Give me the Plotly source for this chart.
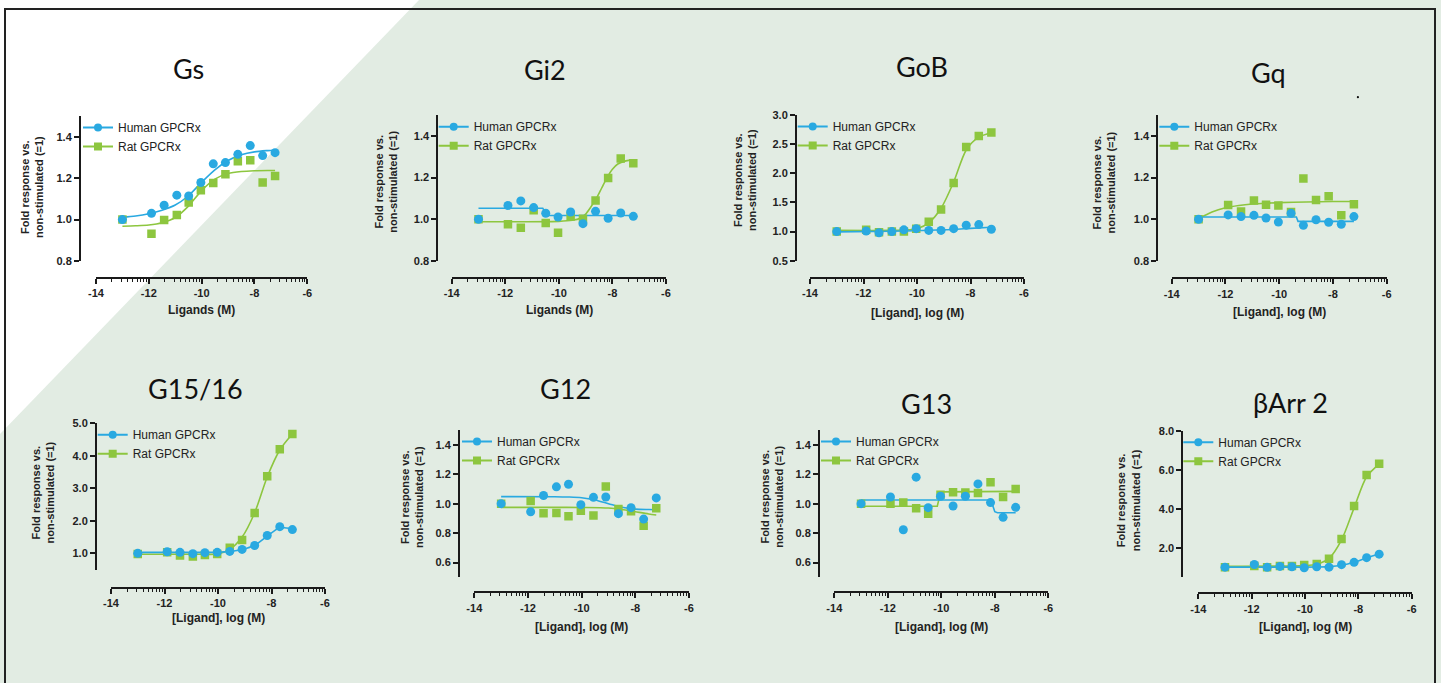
import math
import plotly.graph_objects as go

# ---------------- data ----------------
PANEL_TITLES = ["Gs", "Gi2", "GoB", "Gq", "G15/16", "G12", "G13", "βArr 2"]
X_TITLES = ["Ligands (M)", "Ligands (M)", "[Ligand], log (M)", "[Ligand], log (M)",
            "[Ligand], log (M)", "[Ligand], log (M)", "[Ligand], log (M)", "[Ligand], log (M)"]
SERIES_NAMES = ["Human GPCRx", "Rat GPCRx"]

LOG_CONC = [-13, -11.9, -11.42, -10.94, -10.49, -10.03, -9.56, -9.1, -8.63, -8.16, -7.69, -7.22]

GS_HUMAN = [1.0, 1.03, 1.069, 1.118, 1.114, 1.179, 1.269, 1.275, 1.315, 1.357, 1.309, 1.323]
GS_RAT = [1.0, 0.931, 0.998, 1.022, 1.083, 1.141, 1.176, 1.219, 1.282, 1.286, 1.179, 1.21]
GI2_HUMAN = [1.0, 1.066, 1.088, 1.056, 1.029, 1.011, 1.035, 0.979, 1.038, 1.005, 1.03, 1.014]
GI2_RAT = [1.0, 0.976, 0.96, 1.043, 0.982, 0.936, 1.013, 1.002, 1.09, 1.198, 1.291, 1.269]
GOB_HUMAN = [1.0, 1.01, 0.98, 1.0, 1.03, 1.05, 1.02, 1.02, 1.05, 1.11, 1.12, 1.04]
GOB_RAT = [1.0, 1.03, 0.99, 1.0, 1.0, 1.05, 1.17, 1.38, 1.835, 2.45, 2.64, 2.70]
GQ_HUMAN = [1.0, 1.021, 1.013, 1.019, 1.006, 0.987, 1.029, 0.971, 0.998, 0.986, 0.976, 1.013]
GQ_RAT = [1.0, 1.069, 1.037, 1.09, 1.07, 1.066, 1.035, 1.195, 1.093, 1.11, 1.019, 1.072]
G1516_HUMAN = [1.0, 1.05, 1.03, 0.99, 1.02, 1.03, 1.06, 1.12, 1.24, 1.55, 1.82, 1.73]
G1516_RAT = [0.98, 1.03, 0.93, 0.9, 0.95, 0.98, 1.17, 1.41, 2.24, 3.37, 4.2, 4.67]
G12_HUMAN = [1.0, 0.945, 1.055, 1.114, 1.132, 0.993, 1.043, 1.045, 0.932, 0.973, 0.895, 1.039]
G12_RAT = [1.0, 1.018, 0.934, 0.936, 0.914, 0.952, 0.92, 1.116, 0.964, 0.948, 0.85, 0.968]
G13_HUMAN = [1.0, 1.045, 0.823, 1.18, 0.973, 1.05, 0.984, 1.05, 1.134, 1.007, 0.907, 0.975]
G13_RAT = [1.0, 1.0, 1.007, 0.968, 0.932, 1.061, 1.077, 1.075, 1.073, 1.145, 1.045, 1.1]
BARR_HUMAN = [1.0, 1.14, 0.99, 1.04, 1.02, 0.97, 1.02, 1.0, 1.13, 1.25, 1.49, 1.67]
BARR_RAT = [1.0, 1.06, 0.99, 1.06, 1.06, 1.11, 1.16, 1.43, 2.45, 4.14, 5.74, 6.32]

# fitted curves at a few concentrations
GS_HUMAN_FIT_X = [-13, -12.5, -12, -11.5, -11, -10.5, -10, -9.5, -9, -8.5, -8, -7.5, -7.22]
GS_HUMAN_FIT_Y = [1.011, 1.017, 1.028, 1.045, 1.07, 1.115, 1.18, 1.24, 1.285, 1.313, 1.327, 1.333, 1.335]
GS_RAT_FIT_X = [-13, -12.5, -12, -11.5, -11, -10.5, -10, -9.5, -9, -8.5, -8, -7.5, -7.22]
GS_RAT_FIT_Y = [0.968, 0.97, 0.974, 0.985, 1.01, 1.065, 1.14, 1.195, 1.222, 1.232, 1.236, 1.237, 1.237]
GI2_HUMAN_FIT_X = [-13, -10.6, -10.45, -7.22]
GI2_HUMAN_FIT_Y = [1.053, 1.053, 1.018, 1.018]
GI2_RAT_FIT_X = [-13, -10, -9.5, -9.2, -9.0, -8.8, -8.6, -8.4, -8.2, -8.0, -7.8, -7.5, -7.22]
GI2_RAT_FIT_Y = [0.988, 0.99, 0.995, 1.005, 1.025, 1.06, 1.1, 1.15, 1.2, 1.24, 1.265, 1.28, 1.285]
GOB_HUMAN_FIT_X = [-13, -11, -9, -8, -7.22]
GOB_HUMAN_FIT_Y = [0.995, 1.005, 1.03, 1.055, 1.075]
GOB_RAT_FIT_X = [-13, -11, -10.3, -10, -9.56, -9.1, -8.63, -8.16, -7.69, -7.22]
GOB_RAT_FIT_Y = [1.02, 1.02, 1.03, 1.05, 1.15, 1.4, 1.85, 2.4, 2.62, 2.69]
GQ_HUMAN_FIT_X = [-13, -9.36, -9.3, -7.22]
GQ_HUMAN_FIT_Y = [1.011, 1.011, 0.99, 0.99]
GQ_RAT_FIT_X = [-13, -12.5, -12, -11.5, -11, -10.5, -10, -9, -8, -7.22]
GQ_RAT_FIT_Y = [1.003, 1.035, 1.055, 1.066, 1.073, 1.077, 1.08, 1.083, 1.085, 1.085]
G1516_HUMAN_FIT_X = [-13, -10.5, -10, -9.56, -9.1, -8.63, -8.16, -7.69, -7.22]
G1516_HUMAN_FIT_Y = [1.03, 1.03, 1.035, 1.06, 1.12, 1.25, 1.53, 1.79, 1.75]
G1516_RAT_FIT_X = [-13, -10.5, -10.03, -9.56, -9.1, -8.63, -8.16, -7.69, -7.22]
G1516_RAT_FIT_Y = [0.97, 0.97, 0.98, 1.12, 1.5, 2.25, 3.35, 4.18, 4.67]
G12_HUMAN_FIT_X = [-13, -11, -10.5, -10, -9.5, -9, -8.5, -8, -7.5, -7.22]
G12_HUMAN_FIT_Y = [1.048, 1.047, 1.045, 1.04, 1.025, 1.0, 0.975, 0.963, 0.96, 0.959]
G12_RAT_FIT_X = [-13, -11, -10, -9, -8.5, -8, -7.5, -7.22]
G12_RAT_FIT_Y = [0.975, 0.975, 0.974, 0.97, 0.96, 0.945, 0.93, 0.923]
G13_HUMAN_FIT_X = [-13, -8.2, -8.1, -8.0, -7.9, -7.22]
G13_HUMAN_FIT_Y = [1.025, 1.025, 1.0, 0.945, 0.938, 0.938]
G13_RAT_FIT_X = [-13, -10.15, -10.05, -9.95, -7.22]
G13_RAT_FIT_Y = [0.982, 0.982, 1.06, 1.08, 1.083]
BARR_HUMAN_FIT_X = [-13, -10, -9.56, -9.1, -8.63, -8.16, -7.69, -7.22]
BARR_HUMAN_FIT_Y = [1.0, 1.0, 1.01, 1.03, 1.1, 1.25, 1.48, 1.68]
BARR_RAT_FIT_X = [-13, -10.03, -9.56, -9.1, -8.63, -8.16, -7.69, -7.22]
BARR_RAT_FIT_Y = [1.05, 1.08, 1.15, 1.45, 2.4, 4.05, 5.65, 6.3]

X_TICKS = [-14, -12, -10, -8, -6]
X_TICK_TEXT = ["-14", "-12", "-10", "-8", "-6"]

Y_TICKS_A = [0.8, 1.0, 1.2, 1.4]
Y_TICKS_GOB = [0.5, 1.0, 1.5, 2.0, 2.5, 3.0]
Y_TICKS_G15 = [1, 2, 3, 4, 5]
Y_TICKS_G12 = [0.6, 0.8, 1.0, 1.2, 1.4]
Y_TICKS_BARR = [2, 4, 6, 8]

# ---------------- styling / layout ----------------
W, H = 1441, 683
BLUE = "#29A9E1"
GREEN = "#8DC63F"
INK = "#1a1a1a"
BG = "#E2ECE3"
ARIAL = "Arial, Liberation Sans, sans-serif"


def fx(px):
    return px / W


def fy(py):
    return 1 - py / H


panels = [
    dict(h=GS_HUMAN, r=GS_RAT, hf=(GS_HUMAN_FIT_X, GS_HUMAN_FIT_Y), rf=(GS_RAT_FIT_X, GS_RAT_FIT_Y),
         hs="spline", rs="spline", yt=Y_TICKS_A, yr=[0.8, 1.5], fmt="{:.1f}",
         yax=80, ytop=116, ybot=261, x0=96, x1=307.3, xline=277.7,
         title=(188, 68), xt=(201.7, 310), ytl=(32, 187), leg=(87, 126)),
    dict(h=GI2_HUMAN, r=GI2_RAT, hf=(GI2_HUMAN_FIT_X, GI2_HUMAN_FIT_Y), rf=(GI2_RAT_FIT_X, GI2_RAT_FIT_Y),
         hs="linear", rs="spline", yt=Y_TICKS_A, yr=[0.8, 1.5], fmt="{:.1f}",
         yax=437.3, ytop=115, ybot=261, x0=451.7, x1=666, xline=277.7,
         title=(545, 70), xt=(559, 310), ytl=(385.7, 182), leg=(442.7, 125.3)),
    dict(h=GOB_HUMAN, r=GOB_RAT, hf=(GOB_HUMAN_FIT_X, GOB_HUMAN_FIT_Y), rf=(GOB_RAT_FIT_X, GOB_RAT_FIT_Y),
         hs="spline", rs="spline", yt=Y_TICKS_GOB, yr=[0.5, 3.0], fmt="{:.1f}",
         yax=796, ytop=115, ybot=260.7, x0=810, x1=1024, xline=277.7,
         title=(921.7, 66), xt=(917.3, 313), ytl=(745, 180), leg=(801.7, 125)),
    dict(h=GQ_HUMAN, r=GQ_RAT, hf=(GQ_HUMAN_FIT_X, GQ_HUMAN_FIT_Y), rf=(GQ_RAT_FIT_X, GQ_RAT_FIT_Y),
         hs="linear", rs="spline", yt=Y_TICKS_A, yr=[0.8, 1.5], fmt="{:.1f}",
         yax=1157.3, ytop=115, ybot=261, x0=1171.7, x1=1386.7, xline=278.3,
         title=(1268, 72), xt=(1279, 311.7), ytl=(1103.5, 183), leg=(1163.3, 125.3)),
    dict(h=G1516_HUMAN, r=G1516_RAT, hf=(G1516_HUMAN_FIT_X, G1516_HUMAN_FIT_Y), rf=(G1516_RAT_FIT_X, G1516_RAT_FIT_Y),
         hs="spline", rs="spline", yt=Y_TICKS_G15, yr=[0.5, 5.0], fmt="{:.1f}",
         yax=96, ytop=423.3, ybot=569.6, x0=111, x1=325, xline=587.7,
         title=(195, 388), xt=(218.3, 617.7), ytl=(42.5, 493), leg=(101.7, 433.3)),
    dict(h=G12_HUMAN, r=G12_RAT, hf=(G12_HUMAN_FIT_X, G12_HUMAN_FIT_Y), rf=(G12_RAT_FIT_X, G12_RAT_FIT_Y),
         hs="spline", rs="spline", yt=Y_TICKS_G12, yr=[0.5, 1.5], fmt="{:.1f}",
         yax=459, ytop=430, ybot=577.3, x0=474.3, x1=689, xline=592.3,
         title=(565, 388), xt=(581.7, 626.7), ytl=(412, 497), leg=(466, 440)),
    dict(h=G13_HUMAN, r=G13_RAT, hf=(G13_HUMAN_FIT_X, G13_HUMAN_FIT_Y), rf=(G13_RAT_FIT_X, G13_RAT_FIT_Y),
         hs="linear", rs="linear", yt=Y_TICKS_G12, yr=[0.5, 1.5], fmt="{:.1f}",
         yax=819, ytop=430, ybot=577.3, x0=834.3, x1=1048.3, xline=592.3,
         title=(926.7, 403), xt=(941.7, 626.7), ytl=(771.7, 497), leg=(825, 440)),
    dict(h=BARR_HUMAN, r=BARR_RAT, hf=(BARR_HUMAN_FIT_X, BARR_HUMAN_FIT_Y), rf=(BARR_RAT_FIT_X, BARR_RAT_FIT_Y),
         hs="spline", rs="spline", yt=Y_TICKS_BARR, yr=[0.5, 8.0], fmt="{:.1f}",
         yax=1182.3, ytop=431, ybot=576.9, x0=1198.3, x1=1411.7, xline=593.3,
         title=(1290, 402), xt=(1305, 626.7), ytl=(1128.3, 500), leg=(1187.3, 440.7)),
]

MINOR_X = []
for d in [-14, -12, -10, -8]:
    for k in range(2, 10):
        MINOR_X.append(d + 2 * math.log10(k))

fig = go.Figure()
annotations = []
layout_axes = {}
legends = {}

for i, p in enumerate(panels):
    n = i + 1
    sfx = "" if n == 1 else str(n)
    xa, ya = "x" + sfx, "y" + sfx
    legname = "legend" + sfx

    # fitted curves
    for (fxs, fys), col, shp in [(p["rf"], GREEN, p["rs"]), (p["hf"], BLUE, p["hs"])]:
        fig.add_trace(go.Scatter(x=fxs, y=fys, mode="lines", xaxis=xa, yaxis=ya,
                                 line=dict(color=col, width=1.6, shape=shp, smoothing=0.8),
                                 showlegend=False, hoverinfo="skip"))
    # data points (rat below, human on top)
    fig.add_trace(go.Scatter(x=LOG_CONC, y=p["r"], mode="markers", xaxis=xa, yaxis=ya,
                             marker=dict(symbol="square", size=8.5, color=GREEN),
                             showlegend=False, name=SERIES_NAMES[1]))
    fig.add_trace(go.Scatter(x=LOG_CONC, y=p["h"], mode="markers", xaxis=xa, yaxis=ya,
                             marker=dict(symbol="circle", size=9, color=BLUE),
                             showlegend=False, name=SERIES_NAMES[0]))
    # legend entries
    for name, col, sym in [(SERIES_NAMES[0], BLUE, "circle"), (SERIES_NAMES[1], GREEN, "square")]:
        fig.add_trace(go.Scatter(x=[None], y=[None], mode="lines+markers", xaxis=xa, yaxis=ya,
                                 name=name, legend=legname,
                                 line=dict(color=col, width=2),
                                 marker=dict(symbol=sym, size=8, color=col)))

    legends[legname] = dict(
        x=fx(p["leg"][0] - 9), y=fy(p["leg"][1] - 13), xanchor="left", yanchor="top",
        bgcolor="rgba(0,0,0,0)", borderwidth=0, itemwidth=30, tracegroupgap=0,
        font=dict(family=ARIAL, size=12, color="#222"), itemclick=False, itemdoubleclick=False,
    )

    axis_common = dict(showline=True, linecolor=INK, linewidth=2, ticks="outside",
                       tickcolor=INK, tickwidth=1.5, showgrid=False, zeroline=False,
                       fixedrange=True, automargin=False,
                       tickfont=dict(family=ARIAL, size=11, color="#222", weight="bold"))
    layout_axes["xaxis" + sfx] = dict(
        axis_common, domain=[fx(p["x0"]), fx(p["x1"])], range=[-14, -6],
        anchor="free", position=fy(p["xline"]), ticklen=5,
        tickmode="array", tickvals=X_TICKS, ticktext=X_TICK_TEXT,
        minor=dict(tickmode="array", tickvals=MINOR_X, ticks="outside", ticklen=3,
                   tickwidth=1.2, tickcolor=INK, showgrid=False),
    )
    layout_axes["yaxis" + sfx] = dict(
        axis_common, domain=[fy(p["ybot"]), fy(p["ytop"])], range=p["yr"],
        anchor="free", position=fx(p["yax"]), ticklen=5,
        tickmode="array", tickvals=p["yt"], ticktext=[p["fmt"].format(v) for v in p["yt"]],
    )

    annotations.append(dict(text=PANEL_TITLES[i], x=fx(p["title"][0]), y=fy(p["title"][1]),
                            xref="paper", yref="paper", showarrow=False,
                            xanchor="center", yanchor="middle",
                            font=dict(family="Lato, Noto Sans, sans-serif", size=27, color="#111")))
    annotations.append(dict(text=X_TITLES[i], x=fx(p["xt"][0]), y=fy(p["xt"][1]),
                            xref="paper", yref="paper", showarrow=False,
                            xanchor="center", yanchor="middle",
                            font=dict(family=ARIAL, size=12, color="#222", weight="bold")))
    annotations.append(dict(text="Fold response vs.<br>non-stimulated (=1)",
                            x=fx(p["ytl"][0]), y=fy(p["ytl"][1]), textangle=-90,
                            xref="paper", yref="paper", showarrow=False,
                            xanchor="center", yanchor="middle",
                            font=dict(family=ARIAL, size=11, color="#222", weight="bold")))

shapes = [
    # white triangle in the upper-left corner of the background
    dict(type="path", xref="paper", yref="paper", layer="below",
         path=f"M 0,1 L {fx(419)},1 L 0,{fy(434)} Z",
         fillcolor="white", line=dict(width=0)),
    # frame
    dict(type="rect", xref="paper", yref="paper", layer="above",
         x0=fx(5), x1=fx(1435), y0=fy(9), y1=fy(700),
         fillcolor="rgba(0,0,0,0)", line=dict(color="#222", width=2)),
    # stray dot near Gq panel
    dict(type="circle", xref="paper", yref="paper", layer="above",
         x0=fx(1356.8), x1=fx(1359), y0=fy(98.3), y1=fy(96.1),
         fillcolor="#111", line=dict(width=0)),
]

fig.update_layout(
    width=W, height=H, autosize=False,
    margin=dict(l=0, r=0, t=0, b=0, pad=0, autoexpand=False),
    paper_bgcolor=BG, plot_bgcolor="rgba(0,0,0,0)",
    annotations=annotations, shapes=shapes,
    showlegend=True,
    **layout_axes, **legends,
)

PAGE_CSS = ("document.documentElement.style.margin='0';"
            "document.documentElement.style.overflow='hidden';"
            "document.body.style.margin='0';"
            "document.body.style.padding='0';"
            "document.body.style.overflow='hidden';"
            f"document.body.style.background='{BG}';")

fig.write_html("out.html", config={"displayModeBar": False}, post_script=PAGE_CSS)
